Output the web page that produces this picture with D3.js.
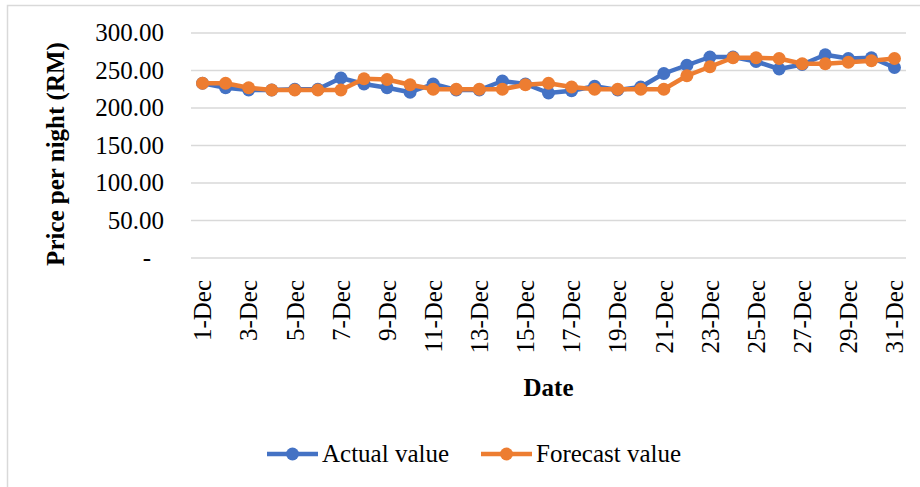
<!DOCTYPE html>
<html>
<head>
<meta charset="utf-8">
<script src="https://cdn.jsdelivr.net/npm/d3@7"></script>
<style>
  body { margin: 0; background: #fff; }
  svg text { font-family: "Liberation Serif", "Times New Roman", serif; fill: #000; font-size: 25px; }
</style>
</head>
<body>
<svg id="chart" width="920" height="487"></svg>
<script>
// data
var days = d3.range(1, 32).map(function(d) { return d + "-Dec"; });
var actual = [233, 227, 224, 224, 225, 225, 240, 232, 227, 221, 232, 224, 224, 236, 232, 220,
              223, 229, 224, 228, 246, 257, 268, 268, 262, 252, 258, 271, 266, 267, 254];
var forecast = [233, 233, 227, 224, 224, 224, 224, 239, 238, 231, 225, 225, 225, 225, 231, 233,
                228, 225, 225, 225, 225, 243, 255, 267, 267, 266, 259, 259, 261, 263, 266];
var yTicks = [0, 50, 100, 150, 200, 250, 300];
var seriesNames = ["Actual value", "Forecast value"];
var colors = ["#4472C4", "#ED7D31"];

var svg = d3.select("#chart");
// plot area edges (window.top is reserved, so no "top" here)
var plotL = 191, plotR = 906, plotT = 33, plotB = 258;

// chart border (only left and top edges are inside the window)
svg.append("rect")
  .attr("x", 7.5).attr("y", 5.5)
  .attr("width", 940).attr("height", 520)
  .attr("fill", "none").attr("stroke", "#d9d9d9").attr("stroke-width", 1.5);

var x = d3.scaleBand().domain(days).range([plotL, plotR]).padding(0);
var y = d3.scaleLinear().domain([0, 300]).range([plotB, plotT]);
var cx = function(i) { return x(days[i]) + x.bandwidth() / 2; };

// gridlines
svg.append("g")
  .selectAll("line")
  .data(yTicks)
  .enter().append("line")
  .attr("x1", plotL).attr("x2", plotR)
  .attr("y1", function(d) { return y(d); })
  .attr("y2", function(d) { return y(d); })
  .attr("stroke", "#d9d9d9").attr("stroke-width", 1.5);

// y tick labels
svg.append("g")
  .selectAll("text")
  .data(yTicks)
  .enter().append("text")
  .attr("x", function(d) { return d === 0 ? 151 : 164; })
  .attr("y", function(d) { return y(d); })
  .attr("dy", "0.33em")
  .attr("text-anchor", "end")
  .text(function(d) { return d === 0 ? "-" : d3.format(".2f")(d); });

// x tick labels, every other day
svg.append("g")
  .selectAll("text")
  .data(days.filter(function(d, i) { return i % 2 === 0; }))
  .enter().append("text")
  .attr("transform", function(d) {
    return "translate(" + (x(d) + x.bandwidth() / 2) + ",280) rotate(-90)";
  })
  .attr("dy", "0.35em")
  .attr("text-anchor", "end")
  .text(function(d) { return d; });

// axis titles
svg.append("text")
  .attr("transform", "translate(55,154) rotate(-90)")
  .attr("dy", "0.35em")
  .attr("text-anchor", "middle")
  .style("font-weight", "bold")
  .text("Price per night (RM)");

svg.append("text")
  .attr("x", (plotL + plotR) / 2).attr("y", 396)
  .attr("text-anchor", "middle")
  .style("font-weight", "bold")
  .text("Date");

// series
var line = d3.line()
  .x(function(d, i) { return cx(i); })
  .y(function(d) { return y(d); });

[actual, forecast].forEach(function(values, k) {
  var g = svg.append("g");
  g.append("path")
    .datum(values)
    .attr("d", line)
    .attr("fill", "none")
    .attr("stroke", colors[k])
    .attr("stroke-width", 4.5)
    .attr("stroke-linejoin", "round");
  g.selectAll("circle")
    .data(values)
    .enter().append("circle")
    .attr("cx", function(d, i) { return cx(i); })
    .attr("cy", function(d) { return y(d); })
    .attr("r", 6.5)
    .attr("fill", colors[k]);
});

// legend
var legendX = [267, 481];
var leg = svg.append("g")
  .selectAll("g")
  .data(seriesNames)
  .enter().append("g")
  .attr("transform", function(d, i) { return "translate(" + legendX[i] + ",454)"; });
leg.append("line")
  .attr("x1", 0).attr("x2", 51)
  .attr("stroke", function(d, i) { return colors[i]; })
  .attr("stroke-width", 4.5);
leg.append("circle")
  .attr("cx", 25.5).attr("r", 6.5)
  .attr("fill", function(d, i) { return colors[i]; });
leg.append("text")
  .attr("x", 55).attr("y", 8)
  .text(function(d) { return d; });
</script>
</body>
</html>
